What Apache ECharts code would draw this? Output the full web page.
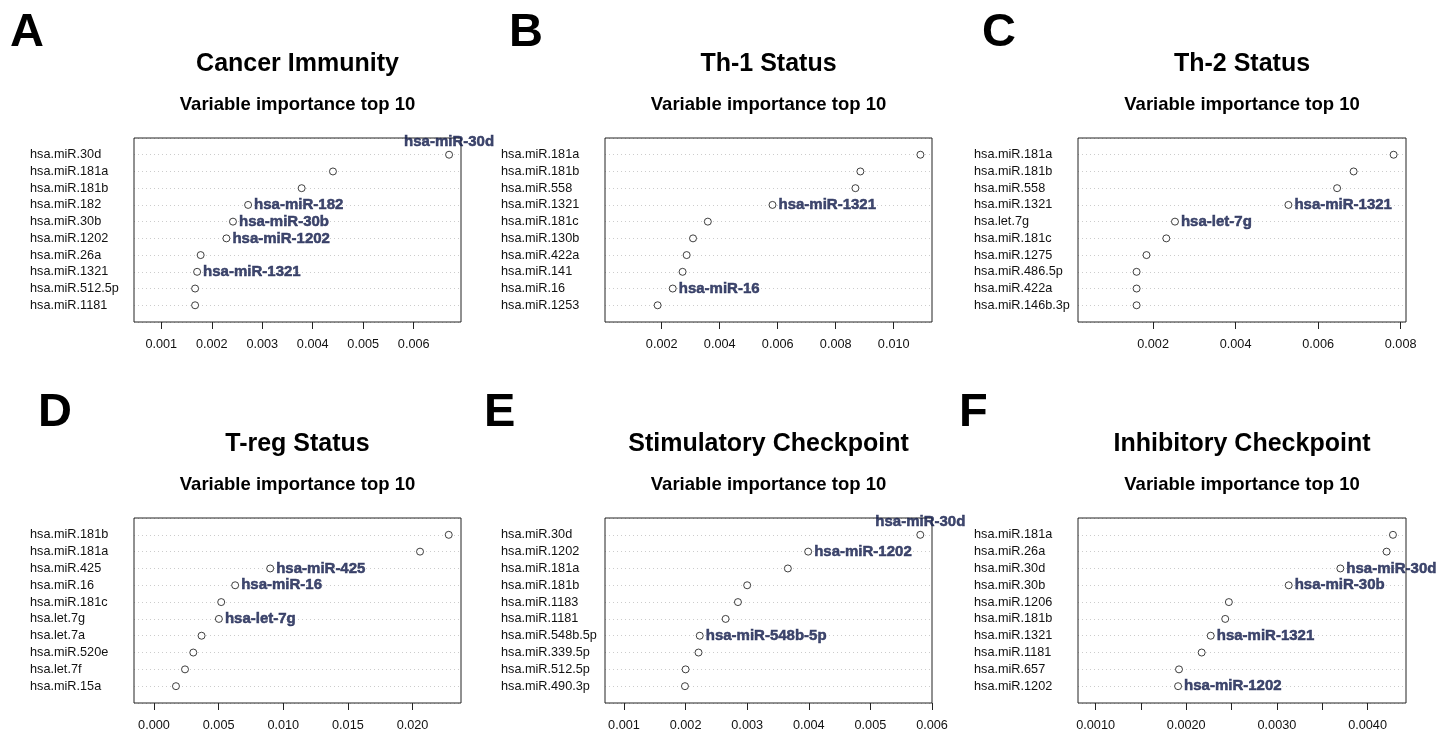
<!DOCTYPE html>
<html>
<head>
<meta charset="utf-8">
<script src="https://cdn.jsdelivr.net/npm/echarts@6/dist/echarts.min.js"></script>
<style>
  html, body { margin: 0; background: #fff; }
  #chart { width: 1445px; height: 733px; }
</style>
</head>
<body>
<div id="chart"></div>
<script>
// variable importance, rows listed top to bottom
const namesA = ['hsa.miR.30d', 'hsa.miR.181a', 'hsa.miR.181b', 'hsa.miR.182', 'hsa.miR.30b', 'hsa.miR.1202', 'hsa.miR.26a', 'hsa.miR.1321', 'hsa.miR.512.5p', 'hsa.miR.1181'];
const valuesA = [0.00670, 0.00440, 0.00378, 0.00272, 0.00242, 0.00229, 0.00178, 0.00171, 0.00167, 0.00167];
const markedA = ['hsa.miR.30d', 'hsa.miR.182', 'hsa.miR.30b', 'hsa.miR.1202', 'hsa.miR.1321'];
const ticksA = [0.001, 0.002, 0.003, 0.004, 0.005, 0.006];

const namesB = ['hsa.miR.181a', 'hsa.miR.181b', 'hsa.miR.558', 'hsa.miR.1321', 'hsa.miR.181c', 'hsa.miR.130b', 'hsa.miR.422a', 'hsa.miR.141', 'hsa.miR.16', 'hsa.miR.1253'];
const valuesB = [0.01092, 0.00885, 0.00868, 0.00582, 0.00359, 0.00308, 0.00286, 0.00272, 0.00238, 0.00186];
const markedB = ['hsa.miR.1321', 'hsa.miR.16'];
const ticksB = [0.002, 0.004, 0.006, 0.008, 0.010];

const namesC = ['hsa.miR.181a', 'hsa.miR.181b', 'hsa.miR.558', 'hsa.miR.1321', 'hsa.let.7g', 'hsa.miR.181c', 'hsa.miR.1275', 'hsa.miR.486.5p', 'hsa.miR.422a', 'hsa.miR.146b.3p'];
const valuesC = [0.00783, 0.00686, 0.00646, 0.00528, 0.00253, 0.00232, 0.00184, 0.00160, 0.00160, 0.00160];
const markedC = ['hsa.miR.1321', 'hsa.let.7g'];
const ticksC = [0.002, 0.004, 0.006, 0.008];

const namesD = ['hsa.miR.181b', 'hsa.miR.181a', 'hsa.miR.425', 'hsa.miR.16', 'hsa.miR.181c', 'hsa.let.7g', 'hsa.let.7a', 'hsa.miR.520e', 'hsa.let.7f', 'hsa.miR.15a'];
const valuesD = [0.0228, 0.02058, 0.00899, 0.00628, 0.00520, 0.00502, 0.00368, 0.00304, 0.00240, 0.00170];
const markedD = ['hsa.miR.425', 'hsa.miR.16', 'hsa.let.7g'];
const ticksD = [0, 0.005, 0.010, 0.015, 0.020];

const namesE = ['hsa.miR.30d', 'hsa.miR.1202', 'hsa.miR.181a', 'hsa.miR.181b', 'hsa.miR.1183', 'hsa.miR.1181', 'hsa.miR.548b.5p', 'hsa.miR.339.5p', 'hsa.miR.512.5p', 'hsa.miR.490.3p'];
const valuesE = [0.00581, 0.00399, 0.00366, 0.00300, 0.00285, 0.00265, 0.00223, 0.00221, 0.00200, 0.00199];
const markedE = ['hsa.miR.30d', 'hsa.miR.1202', 'hsa.miR.548b.5p'];
const ticksE = [0.001, 0.002, 0.003, 0.004, 0.005, 0.006];

const namesF = ['hsa.miR.181a', 'hsa.miR.26a', 'hsa.miR.30d', 'hsa.miR.30b', 'hsa.miR.1206', 'hsa.miR.181b', 'hsa.miR.1321', 'hsa.miR.1181', 'hsa.miR.657', 'hsa.miR.1202'];
const valuesF = [0.00428, 0.00421, 0.00370, 0.00313, 0.00247, 0.00243, 0.00227, 0.00217, 0.00192, 0.00191];
const markedF = ['hsa.miR.30d', 'hsa.miR.30b', 'hsa.miR.1321', 'hsa.miR.1202'];
const ticksF = [0.0010, 0.0015, 0.0020, 0.0025, 0.0030, 0.0035, 0.0040];
const tickLabelsF = [0.0010, 0.0020, 0.0030, 0.0040];

// labels drawn above the point instead of to the right
const labelAbove = { A: ['hsa.miR.30d'], E: ['hsa.miR.30d'] };

const panels = [
  { key: 'A', title: 'Cancer Immunity', names: namesA, values: valuesA, marked: markedA, ticks: ticksA, labels: ticksA, min: 0.00046, max: 0.006936, digits: 3, box: [134, 138, 327, 184], letterX: 10 },
  { key: 'B', title: 'Th-1 Status', names: namesB, values: valuesB, marked: markedB, ticks: ticksB, labels: ticksB, min: 0.000045, max: 0.01132, digits: 3, box: [605, 138, 327, 184], letterX: 509 },
  { key: 'C', title: 'Th-2 Status', names: namesC, values: valuesC, marked: markedC, ticks: ticksC, labels: ticksC, min: 0.00018, max: 0.00813, digits: 3, box: [1078, 138, 328, 184], letterX: 982 },
  { key: 'D', title: 'T-reg Status', names: namesD, values: valuesD, marked: markedD, ticks: ticksD, labels: ticksD, min: -0.001546, max: 0.02375, digits: 3, box: [134, 518, 327, 185], letterX: 38 },
  { key: 'E', title: 'Stimulatory Checkpoint', names: namesE, values: valuesE, marked: markedE, ticks: ticksE, labels: ticksE, min: 0.000692, max: 0.006, digits: 3, box: [605, 518, 327, 185], letterX: 484 },
  { key: 'F', title: 'Inhibitory Checkpoint', names: namesF, values: valuesF, marked: markedF, ticks: ticksF, labels: tickLabelsF, min: 0.000806, max: 0.004424, digits: 4, box: [1078, 518, 328, 185], letterX: 959 }
];

const sans = "'Liberation Sans', Arial, sans-serif";
const navy = '#101a4a';

const grid = [], xAxis = [], yAxis = [], series = [], title = [];

panels.forEach((p, k) => {
  const [left, top, width, height] = p.box;
  const cx = left + width / 2;

  grid.push({ left, top, width, height, show: true, borderColor: '#222', borderWidth: 1, z: 5 });

  xAxis.push({
    type: 'value', gridIndex: k, min: p.min, max: p.max, position: 'bottom',
    axisLine: { show: false, onZero: false },
    splitLine: { show: false },
    axisTick: { show: true, length: 7, customValues: p.ticks, lineStyle: { color: '#222' } },
    axisLabel: {
      customValues: p.labels, margin: 16, fontSize: 12.7, color: '#111', fontFamily: sans,
      formatter: v => v.toFixed(p.digits)
    }
  });

  yAxis.push({
    type: 'value', gridIndex: k, min: 0, max: 11, interval: 1, inverse: true,
    axisLine: { show: false, onZero: false },
    axisTick: { show: false },
    splitLine: { show: true, lineStyle: { color: '#cccccc', type: [1, 3], width: 1 } },
    axisLabel: {
      align: 'left', margin: 104, fontSize: 12.7, color: '#111', fontFamily: sans,
      formatter: v => p.names[v - 1] || ''
    }
  });

  const above = labelAbove[p.key] || [];
  series.push({
    type: 'scatter', xAxisIndex: k, yAxisIndex: k,
    symbol: 'circle', symbolSize: 7,
    itemStyle: { color: '#fff', borderColor: '#111', borderWidth: 1 },
    z: 6,
    data: p.names.map((n, i) => {
      const item = { value: [p.values[i], i + 1] };
      if (p.marked.includes(n)) {
        const up = above.includes(n);
        item.label = {
          show: true, formatter: n.replace(/\./g, '-'),
          position: up ? 'top' : 'right', distance: up ? 1 : 2,
          color: navy, fontWeight: 'bold', fontSize: 15, fontFamily: sans,
          textBorderColor: navy, textBorderWidth: 0.5
        };
      }
      return item;
    })
  });

  const rowTop = top < 300 ? 0 : 380;
  title.push({
    text: p.key, left: p.letterX, top: 10 + rowTop, padding: 0,
    textStyle: { fontSize: 47, fontWeight: 'bold', color: '#000', fontFamily: sans }
  });
  title.push({
    text: p.title, left: cx, top: 52 + rowTop, padding: 0, textAlign: 'center',
    textStyle: { fontSize: 25, fontWeight: 'bold', color: '#000', fontFamily: sans }
  });
  title.push({
    text: 'Variable importance top 10', left: cx, top: 95 + rowTop, padding: 0, textAlign: 'center',
    textStyle: { fontSize: 18.5, fontWeight: 'bold', color: '#000', fontFamily: sans }
  });
});

const chart = echarts.init(document.getElementById('chart'));
chart.setOption({
  backgroundColor: '#fff',
  animation: false,
  title, grid, xAxis, yAxis, series
});
</script>
</body>
</html>
